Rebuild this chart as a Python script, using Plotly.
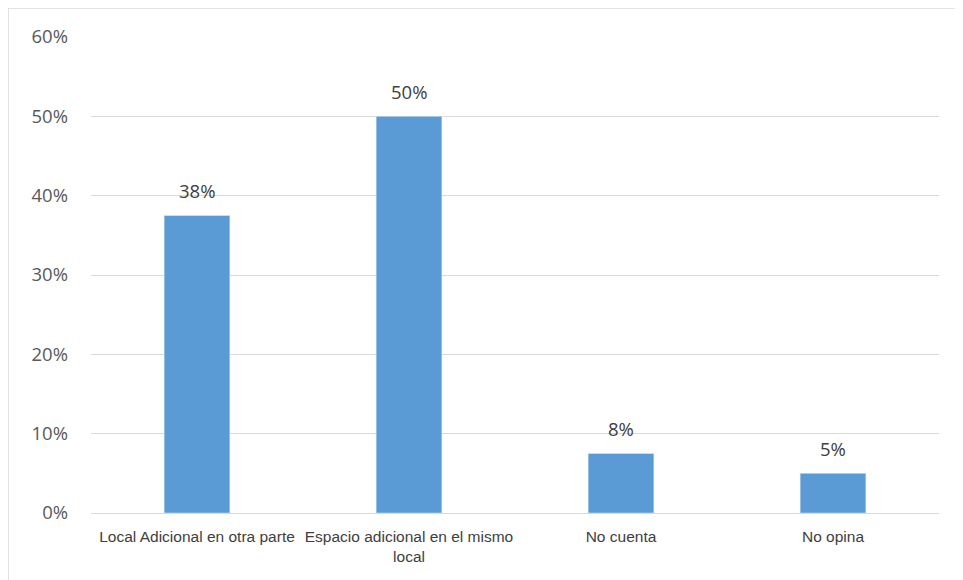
import plotly.graph_objects as go

categories = ["Local Adicional en otra parte", "Espacio adicional en el mismo<br>local", "No cuenta", "No opina"]
values = [0.375, 0.50, 0.075, 0.05]
labels = ["38%", "50%", "8%", "5%"]
tick_vals = [0, 0.1, 0.2, 0.3, 0.4, 0.5, 0.6]
tick_text = ["0%", "10%", "20%", "30%", "40%", "50%", "60%"]

fig = go.Figure()
fig.add_trace(go.Bar(x=categories, y=values, marker_color="#5B9BD5", width=0.31,
                     hoverinfo="skip"))

for c, v, t in zip(categories, values, labels):
    fig.add_annotation(x=c, y=v, text=t, showarrow=False, yshift=25,
                       font=dict(family="Open Sans", size=18.5, color="#404040"))

fig.add_shape(type="rect", xref="paper", yref="paper",
              x0=-83/848, x1=(975-91)/848, y0=-0.3, y1=505/476,
              line=dict(color="#D9D9D9", width=1.5), fillcolor="rgba(0,0,0,0)", layer="below")

fig.update_layout(
    width=955, height=572,
    margin=dict(l=83, r=24, t=29, b=67),
    plot_bgcolor="white", paper_bgcolor="white",
    showlegend=False,
    bargap=0.69,
    xaxis=dict(showgrid=False, showline=True, linecolor="#D9D9D9", linewidth=1,
               tickfont=dict(family="Liberation Sans", size=15.5, color="#404040"),
               ticklabelstandoff=9, ticks="", fixedrange=True),
    yaxis=dict(range=[0, 0.6], tickvals=tick_vals, ticktext=tick_text,
               showgrid=True, gridcolor="#D9D9D9", gridwidth=1, zeroline=False,
               tickfont=dict(family="Open Sans", size=18.5, color="#595959"),
               ticklabelstandoff=22, fixedrange=True),
)

fig.write_html("out.html")
